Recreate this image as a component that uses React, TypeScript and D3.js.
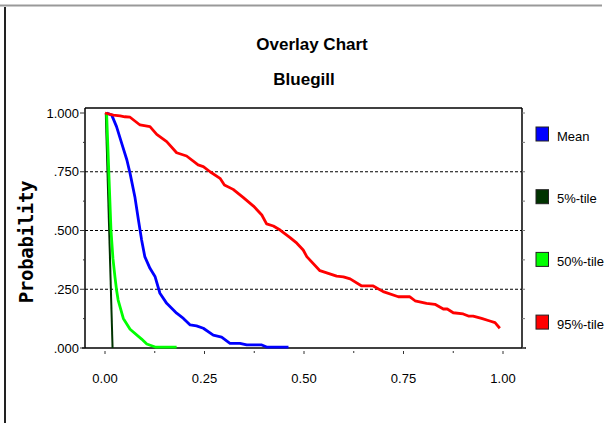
import * as d3 from 'd3';

// Overlay chart: cumulative probability curves for Bluegill
type Pt = [number, number];

const meanCurve: Pt[] = [
  [0.004, 1.0], [0.017, 0.991], [0.029, 0.942], [0.042, 0.871], [0.055, 0.8],
  [0.063, 0.743], [0.075, 0.644], [0.084, 0.545], [0.092, 0.46], [0.1, 0.389],
  [0.113, 0.339], [0.126, 0.303], [0.138, 0.233], [0.155, 0.19], [0.18, 0.148],
  [0.197, 0.126], [0.214, 0.098], [0.23, 0.094], [0.247, 0.084], [0.272, 0.055],
  [0.293, 0.046], [0.314, 0.02], [0.339, 0.02], [0.356, 0.013], [0.394, 0.013],
  [0.406, 0.004], [0.461, 0.004],
];

const p5Curve: Pt[] = [
  [0.002, 1.0], [0.019, 0.0],
];

const p50Curve: Pt[] = [
  [0.004, 1.0], [0.015, 0.502], [0.02, 0.38], [0.025, 0.303], [0.029, 0.247],
  [0.033, 0.204], [0.046, 0.126], [0.063, 0.08], [0.092, 0.038], [0.105, 0.017],
  [0.126, 0.004], [0.18, 0.004],
];

const p95Curve: Pt[] = [
  [0.0, 1.0], [0.021, 0.991], [0.038, 0.988], [0.05, 0.984], [0.063, 0.982],
  [0.088, 0.949], [0.113, 0.942], [0.13, 0.909], [0.155, 0.878], [0.18, 0.831],
  [0.205, 0.817], [0.234, 0.779], [0.247, 0.772], [0.264, 0.75], [0.289, 0.722],
  [0.3, 0.694], [0.322, 0.675], [0.347, 0.641], [0.373, 0.604], [0.394, 0.566],
  [0.406, 0.528], [0.423, 0.519], [0.44, 0.502], [0.465, 0.47], [0.482, 0.446],
  [0.498, 0.417], [0.507, 0.389], [0.54, 0.329], [0.582, 0.306], [0.599, 0.303],
  [0.616, 0.294], [0.645, 0.264], [0.674, 0.264], [0.699, 0.24], [0.737, 0.218],
  [0.766, 0.218], [0.779, 0.201], [0.808, 0.19], [0.829, 0.186], [0.85, 0.166],
  [0.86, 0.166], [0.875, 0.15], [0.9, 0.145], [0.913, 0.136], [0.925, 0.136],
  [0.946, 0.126], [0.967, 0.115], [0.98, 0.108], [0.992, 0.084],
];

const seriesNames = ['Mean', '5%-tile', '50%-tile', '95%-tile'];
const seriesColors = ['#0000ff', '#003300', '#00ff00', '#ff0000'];
const seriesData = [meanCurve, p5Curve, p50Curve, p95Curve];

const xTicks = [0, 0.25, 0.5, 0.75, 1.0];
const xTickLabels = ['0.00', '0.25', '0.50', '0.75', '1.00'];
const yTicks = [0, 0.25, 0.5, 0.75, 1.0];
const yTickLabels = ['.000', '.250', '.500', '.750', '1.000'];
const gridValues = [0.25, 0.5, 0.75];
const minorY = d3.range(0, 1.0001, 0.125);
const minorX = d3.range(0, 1.0001, 0.125);

const W = 607;
const H = 423;
const frame = { left: 85, top: 108, right: 522, bottom: 348 };
const font = '"Liberation Sans", Arial, sans-serif';

export default function App() {
  const x = d3.scaleLinear().domain([0, 1]).range([105, 503]);
  const y = d3.scaleLinear().domain([0, 1]).range([348, 113]);

  const line = d3
    .line<Pt>()
    .x((d) => x(d[0]))
    .y((d) => y(d[1]));

  return (
    <svg
      width={W}
      height={H}
      style={{ position: 'absolute', left: 0, top: 0, background: '#fff' }}
    >
      {/* outer frame pieces */}
      <line x1={0} x2={602} y1={5.5} y2={5.5} stroke="#999" strokeWidth={2} />
      <line x1={5} x2={5} y1={7} y2={H} stroke="#222" strokeWidth={2} />

      {/* titles */}
      <text x={312} y={50} fontFamily={font} fontSize={17} fontWeight="bold" textAnchor="middle">
        Overlay Chart
      </text>
      <text x={304} y={85} fontFamily={font} fontSize={17} fontWeight="bold" textAnchor="middle">
        Bluegill
      </text>

      {/* y axis title */}
      <text
        transform="translate(33,242) rotate(-90)"
        fontFamily='"DejaVu Sans Mono", monospace'
        fontSize={19}
        fontWeight="bold"
        textAnchor="middle"
        letterSpacing={-0.3}
      >
        Probability
      </text>

      {/* dashed grid */}
      {gridValues.map((v) => (
        <line
          key={v}
          x1={frame.left}
          x2={frame.right}
          y1={y(v)}
          y2={y(v)}
          stroke="#000"
          strokeWidth={1}
          strokeDasharray="3,2"
        />
      ))}

      {/* plot frame */}
      <line x1={frame.left} x2={frame.right} y1={frame.top} y2={frame.top} stroke="#000" strokeWidth={1.5} />
      <line x1={frame.left} x2={frame.left} y1={frame.top} y2={frame.bottom} stroke="#000" strokeWidth={1.5} />
      <line x1={frame.right} x2={frame.right} y1={frame.top} y2={frame.bottom} stroke="#000" strokeWidth={1.5} />
      <line x1={82} x2={526} y1={frame.bottom} y2={frame.bottom} stroke="#000" strokeWidth={1.5} />

      {/* y ticks, left and right */}
      {minorY.map((v) => {
        const major = Math.abs((v * 4) % 1) < 1e-6;
        return (
          <g key={v}>
            <line x1={major ? 80 : 83} x2={frame.left} y1={y(v)} y2={y(v)} stroke="#333" strokeWidth={1} />
            <line x1={frame.right} x2={525} y1={y(v)} y2={y(v)} stroke="#777" strokeWidth={1} />
          </g>
        );
      })}
      {yTicks.map((v, i) => (
        <text key={v} x={79} y={y(v) + 4.6} fontFamily={font} fontSize={13} textAnchor="end">
          {yTickLabels[i]}
        </text>
      ))}

      {/* x ticks */}
      {minorX.map((v) => {
        const major = Math.abs((v * 4) % 1) < 1e-6;
        return (
          <line
            key={v}
            x1={x(v)}
            x2={x(v)}
            y1={351}
            y2={major ? 354 : 353}
            stroke="#333"
            strokeWidth={1}
          />
        );
      })}
      {xTicks.map((v, i) => (
        <text key={v} x={x(v)} y={383} fontFamily={font} fontSize={13} textAnchor="middle">
          {xTickLabels[i]}
        </text>
      ))}

      {/* curves */}
      {seriesData.map((d, i) => (
        <path
          key={seriesNames[i]}
          d={line(d) ?? ''}
          fill="none"
          stroke={seriesColors[i]}
          strokeWidth={i === 1 ? 2 : 2.8}
          strokeLinejoin="round"
        />
      ))}

      {/* legend */}
      {seriesNames.map((name, i) => {
        const cy = 134 + i * 62.7;
        return (
          <g key={name}>
            <rect x={536} y={cy - 7} width={12.5} height={14} fill={seriesColors[i]} stroke="#222" strokeWidth={1} />
            <text x={557} y={cy + 6.5} fontFamily={font} fontSize={13}>
              {name}
            </text>
          </g>
        );
      })}
    </svg>
  );
}
